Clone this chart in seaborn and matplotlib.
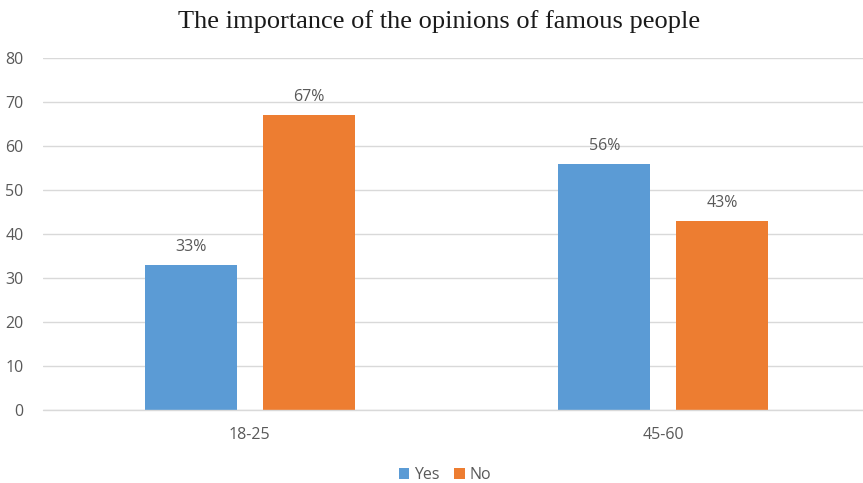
import matplotlib
matplotlib.use("Agg")
import matplotlib.pyplot as plt
import seaborn as sns
import pandas as pd

# Survey results by age group
age_groups = ["18-25", "45-60"]
yes_values = [33, 56]
no_values = [67, 43]
series_names = ["Yes", "No"]
y_ticks = [0, 10, 20, 30, 40, 50, 60, 70, 80]

df = pd.DataFrame({
    "age": age_groups * 2,
    "answer": [series_names[0]] * len(age_groups) + [series_names[1]] * len(age_groups),
    "value": yes_values + no_values,
})

sns.set_theme(style="white")
plt.rcParams["font.family"] = ["Open Sans", "DejaVu Sans"]

fig = plt.figure(figsize=(8.63, 4.83), dpi=100)
ax = fig.add_axes([43 / 863, 73 / 483, 820 / 863, 352 / 483])

palette = {"Yes": "#5B9BD5", "No": "#ED7D31"}
sns.barplot(data=df, x="age", y="value", hue="answer", hue_order=series_names,
            palette=palette, width=0.571, gap=0.22, saturation=1,
            errorbar=None, linewidth=0, ax=ax, zorder=3)

for container in ax.containers:
    ax.bar_label(container, labels=[f"{int(v)}%" for v in container.datavalues],
                 padding=7, fontsize=11.5, color="#595959")

ax.set_ylim(0, 80)
ax.set_xlim(-0.5, 1.483)
ax.set_yticks(y_ticks)
ax.yaxis.grid(True, color="#D9D9D9", linewidth=1, zorder=0)
ax.xaxis.grid(False)
ax.axhline(0, color="#D9D9D9", linewidth=1, zorder=4, clip_on=False)
for s in ax.spines.values():
    s.set_visible(False)
ax.tick_params(axis="both", length=0, labelsize=11.5, labelcolor="#595959")
ax.tick_params(axis="y", pad=14)
ax.tick_params(axis="x", pad=12)
ax.set_xlabel("")
ax.set_ylabel("")

sns.move_legend(ax, "center", bbox_to_anchor=(445 / 863, 8 / 483),
                bbox_transform=fig.transFigure, ncol=2, frameon=False,
                title=None, fontsize=11.5, handlelength=0.65, handleheight=0.65,
                handletextpad=0.3, columnspacing=0.9)
for t in ax.get_legend().get_texts():
    t.set_color("#595959")

fig.text(439 / 863, 1 - 22 / 483, "The importance of the opinions of famous people",
         ha="center", va="center", fontsize=19, family="Liberation Serif",
         color="#1a1a1a")

fig.savefig("out.png", dpi=100)
